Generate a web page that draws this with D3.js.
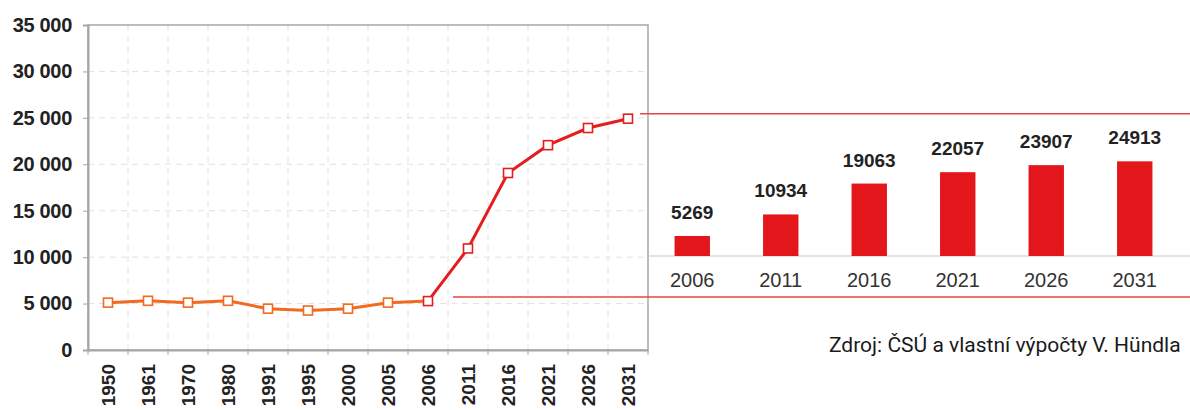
<!DOCTYPE html>
<html>
<head>
<meta charset="utf-8">
<script src="https://cdn.jsdelivr.net/npm/d3@7"></script>
<style>
  html, body { margin: 0; padding: 0; background: #fff; overflow: hidden; }
  svg { display: block; }
</style>
</head>
<body>
<svg id="chart" width="1190" height="410"></svg>
<script>
  // population by census / projection year
  const years = ['1950', '1961', '1970', '1980', '1991', '1995', '2000', '2005', '2006', '2011', '2016', '2021', '2026', '2031'];
  const population = [5100, 5300, 5100, 5300, 4450, 4250, 4450, 5100, 5269, 10934, 19063, 22057, 23907, 24913];
  const projectionFrom = '2006';
  const yTicks = [0, 5000, 10000, 15000, 20000, 25000, 30000, 35000];

  // detail of the projection
  const barYears = ['2006', '2011', '2016', '2021', '2026', '2031'];
  const barValues = [5269, 10934, 19063, 22057, 23907, 24913];

  const sourceText = 'Zdroj: ČSÚ a vlastní výpočty V. Hündla';

  const orange = '#f26a21';
  const red = '#e41e1e';
  const grey = '#a6a6a6';
  const font = '"Liberation Sans", Arial, sans-serif';

  const svg = d3.select('#chart');

  const x = d3.scaleBand().domain(years).range([88, 648]);
  const y = d3.scaleLinear().domain([0, 35000]).range([350, 25]);
  const fmt = d => d === 0 ? '0' : d3.format(',')(d).replace(/,/g, ' ');

  // grid
  const grid = svg.append('g');
  grid.selectAll('line.h')
      .data(yTicks.slice(1, -1))
      .enter().append('line')
      .attr('x1', 88).attr('x2', 648)
      .attr('y1', d => y(d)).attr('y2', d => y(d))
      .attr('stroke', '#e2e2e2').attr('stroke-dasharray', '6 5');
  grid.selectAll('line.v')
      .data(years.slice(1))
      .enter().append('line')
      .attr('x1', d => x(d)).attr('x2', d => x(d))
      .attr('y1', 25).attr('y2', 350)
      .attr('stroke', '#e2e2e2').attr('stroke-dasharray', '6 5');

  // plot frame
  svg.append('rect')
     .attr('x', 88).attr('y', 25).attr('width', 560).attr('height', 325)
     .attr('fill', 'none').attr('stroke', grey).attr('stroke-width', 1.5);

  // y axis
  const yAxis = svg.append('g')
      .attr('transform', 'translate(88,0)')
      .call(d3.axisLeft(y).tickValues(yTicks).tickFormat(fmt).tickSize(5).tickPadding(11));
  yAxis.select('.domain').attr('stroke', grey).attr('stroke-width', 2);
  yAxis.selectAll('.tick line').attr('stroke', grey);
  yAxis.selectAll('text')
       .attr('font-family', font)
       .attr('font-weight', 'bold').attr('font-size', 20).attr('fill', '#222')
       .attr('letter-spacing', -0.3);

  // x axis
  const xAxis = svg.append('g')
      .attr('transform', 'translate(0,350)')
      .call(d3.axisBottom(x).tickSize(0).tickPadding(0));
  xAxis.select('.domain').attr('stroke', grey).attr('stroke-width', 2);
  xAxis.selectAll('.tick text')
       .attr('font-family', font)
       .attr('font-weight', 'bold').attr('font-size', 19).attr('fill', '#222')
       .attr('transform', 'translate(0,14) rotate(-90)')
       .attr('text-anchor', 'end').attr('dy', '0.36em').attr('y', 0);
  svg.append('g').selectAll('line')
     .data(years.map(d => x(d)).concat([648]))
     .enter().append('line')
     .attr('x1', d => d).attr('x2', d => d)
     .attr('y1', 350).attr('y2', 355)
     .attr('stroke', grey);

  // line
  const pts = years.map((yr, i) => ({ yr: yr, v: population[i], cx: x(yr) + x.bandwidth() / 2 }));
  const splitAt = years.indexOf(projectionFrom);
  const line = d3.line().x(d => d.cx).y(d => y(d.v));
  svg.append('path')
     .attr('d', line(pts.slice(0, splitAt + 1)))
     .attr('fill', 'none').attr('stroke', orange).attr('stroke-width', 3);
  svg.append('path')
     .attr('d', line(pts.slice(splitAt)))
     .attr('fill', 'none').attr('stroke', red).attr('stroke-width', 3);
  svg.append('g').selectAll('rect')
     .data(pts)
     .enter().append('rect')
     .attr('x', d => d.cx - 4.5).attr('y', d => y(d.v) - 4.5)
     .attr('width', 9).attr('height', 9)
     .attr('fill', '#fff')
     .attr('stroke', (d, i) => i < splitAt ? orange : red)
     .attr('stroke-width', 1.6);

  // callout lines
  svg.append('line')
     .attr('x1', 640).attr('x2', 1190)
     .attr('y1', y(25450)).attr('y2', y(25450))
     .attr('stroke', '#e8453c').attr('stroke-width', 1.5);
  svg.append('line')
     .attr('x1', 453).attr('x2', 1190)
     .attr('y1', y(5700)).attr('y2', y(5700))
     .attr('stroke', '#e8453c').attr('stroke-width', 1.5);

  // bar detail
  const xb = d3.scaleBand().domain(barYears).range([648, 1179]).paddingInner(0.6).paddingOuter(0.3);
  const yb = d3.scaleLinear().domain([0, 30000]).range([256, 142]);

  svg.append('line')
     .attr('x1', 648).attr('x2', 1190)
     .attr('y1', yb(0)).attr('y2', yb(0))
     .attr('stroke', '#c8c8c8').attr('stroke-width', 1);

  const bars = svg.append('g');
  bars.selectAll('rect')
      .data(barValues)
      .enter().append('rect')
      .attr('x', (d, i) => xb(barYears[i]))
      .attr('y', d => yb(d))
      .attr('width', xb.bandwidth())
      .attr('height', d => yb(0) - yb(d))
      .attr('fill', '#e3171b');
  bars.selectAll('text.val')
      .data(barValues)
      .enter().append('text')
      .attr('class', 'val')
      .attr('x', (d, i) => xb(barYears[i]) + xb.bandwidth() / 2)
      .attr('y', d => yb(d) - 17)
      .attr('text-anchor', 'middle')
      .attr('font-family', font)
      .attr('font-weight', 'bold').attr('font-size', 19).attr('fill', '#222')
      .text(d => d);
  bars.selectAll('text.cat')
      .data(barYears)
      .enter().append('text')
      .attr('class', 'cat')
      .attr('x', d => xb(d) + xb.bandwidth() / 2)
      .attr('y', 287)
      .attr('text-anchor', 'middle')
      .attr('font-family', font)
      .attr('font-size', 20).attr('fill', '#333')
      .text(d => d);

  // source
  svg.append('text')
     .attr('x', 829).attr('y', 352)
     .attr('font-family', 'Roboto, sans-serif')
     .attr('font-size', 21).attr('fill', '#1a1a1a')
     .text(sourceText);
</script>
</body>
</html>
